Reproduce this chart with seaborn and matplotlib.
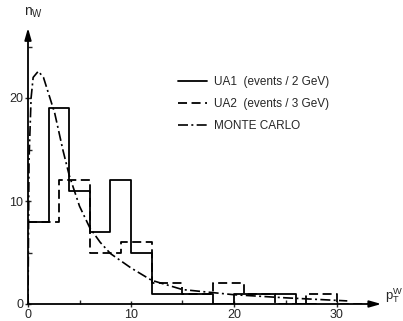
import numpy as np
import seaborn as sns
import matplotlib.pyplot as plt
from matplotlib.lines import Line2D

# UA1, 2 GeV bins (trailing empty bin closes the outline)
ua1_edges = [0, 2, 4, 6, 8, 10, 12, 14, 16, 18, 20, 22, 24, 26, 28]
ua1_counts = [8, 19, 11, 7, 12, 5, 1, 1, 1, 0, 1, 1, 1, 0]

# UA2, 3 GeV bins
ua2_edges = [0, 3, 6, 9, 12, 15, 18, 21, 24, 27, 30, 33]
ua2_counts = [8, 12, 5, 6, 2, 1, 2, 1, 0, 1, 0]

# Monte Carlo curve
mc_pt = [0, 0.1, 0.3, 0.5, 1.0, 1.5, 2.1, 2.6, 3.4, 4, 5, 6, 7, 8, 10, 12, 15, 20, 25, 31]
mc_n = [0, 14, 20, 22, 22.6, 22, 20.1, 18.5, 14.9, 12.5, 9.5, 7.4, 6.0, 4.9, 3.5, 2.3, 1.4, 0.9, 0.6, 0.3]

labels = ['UA1  (events / 2 GeV)', 'UA2  (events / 3 GeV)', 'MONTE CARLO']

sns.set_style('white')
plt.rcParams['font.family'] = ['Liberation Sans', 'DejaVu Sans']

fig = plt.figure(figsize=(4.03, 3.21), dpi=100)
ax = fig.add_axes([28 / 403, 17 / 321, 35 * 10.3 / 403, 27 * 10.3 / 321])

dashed = (0, (5, 2.5))
dashdot = (0, (6, 2, 1.2, 2))

def centers(edges):
    e = np.array(edges, dtype=float)
    return (e[:-1] + e[1:]) / 2

sns.histplot(x=centers(ua1_edges), weights=ua1_counts, bins=ua1_edges,
             element='step', fill=False, color='black', linewidth=1.3, ax=ax)
sns.histplot(x=centers(ua2_edges), weights=ua2_counts, bins=ua2_edges,
             element='step', fill=False, color='black', linewidth=1.3,
             linestyle=dashed, ax=ax)
sns.lineplot(x=mc_pt, y=mc_n, color='black', linewidth=1.2,
             linestyle=dashdot, ax=ax)

ax.set_xlim(0, 35)
ax.set_ylim(0, 27)
for s in ax.spines.values():
    s.set_visible(False)

# axes with arrows
arrow = dict(arrowstyle='-|>,head_length=0.7,head_width=0.2',
             color='black', lw=1.3, shrinkA=0, shrinkB=0)
ax.annotate('', xy=(34.3, 0), xytext=(0, 0), annotation_clip=False, arrowprops=arrow)
ax.annotate('', xy=(0, 26.8), xytext=(0, 0), annotation_clip=False, arrowprops=arrow)

ax.set_xticks([0, 10, 20, 30])
ax.set_yticks([0, 10, 20])
ax.set_xticks([5, 15, 25], minor=True)
ax.set_yticks([5, 15, 25], minor=True)
ax.tick_params(which='major', direction='inout', length=5, width=1,
               labelsize=9, pad=1, bottom=True, left=True)
ax.tick_params(which='minor', direction='in', length=3, width=1,
               bottom=True, left=True)
ax.set_xlabel('')
ax.set_ylabel('')

ax.text(-0.4, 28.3, r'n$_\mathregular{W}$', fontsize=10, ha='left', va='center')
ax.text(34.7, 0.8, r'p$_\mathregular{T}^\mathregular{W}$', fontsize=9.5,
        ha='left', va='center', clip_on=False)

handles = [Line2D([], [], color='black', lw=1.3),
           Line2D([], [], color='black', lw=1.3, linestyle=dashed),
           Line2D([], [], color='black', lw=1.2, linestyle=dashdot)]
fig.legend(handles, labels, loc='upper left', bbox_to_anchor=(172 / 403, 1 - 70 / 321),
           frameon=False, fontsize=8.5, handlelength=2.5, handletextpad=0.55,
           labelspacing=0.85, borderpad=0)

fig.savefig('out.png', dpi=100)
